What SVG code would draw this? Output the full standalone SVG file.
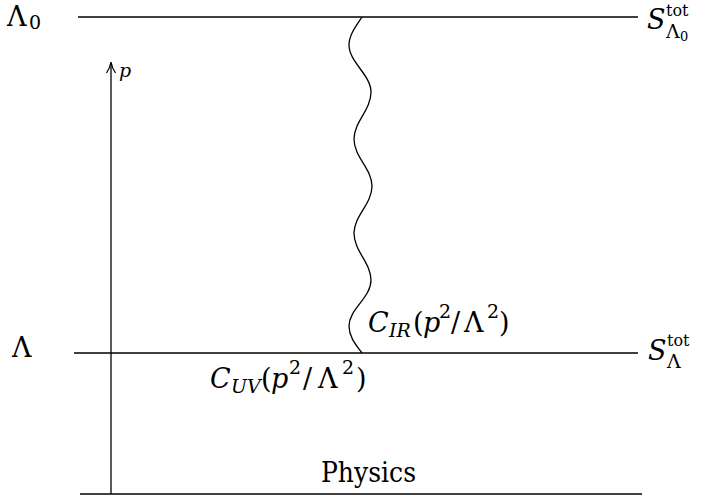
<svg xmlns="http://www.w3.org/2000/svg" width="701" height="500" viewBox="0 0 701 500">
<style>
.ln{stroke:#000;stroke-width:1.3;fill:none}
.t{font-family:"DejaVu Serif","Liberation Serif",serif;fill:#000}
.m{font-size:27px}
.s{font-size:19px}
.sp{font-size:16px}
.ss{font-size:13px}
.i{font-style:italic}
</style>
<rect width="701" height="500" fill="#fff"/>
<g id="levels">
<g id="level-Lambda0">
<line class="ln" x1="78" y1="17" x2="638" y2="17"/>
<text x="7" y="26" class="t m">Λ<tspan class="s" x="29" y="29">0</tspan></text>
<text x="647" y="29" class="t m i">S<tspan class="sp" font-style="normal" x="666" y="16">tot</tspan><tspan class="s" font-style="normal" x="666" y="38">Λ</tspan><tspan class="ss" font-style="normal" x="680" y="41">0</tspan></text>
</g>
<g id="level-Lambda">
<line class="ln" x1="74" y1="353" x2="638" y2="353"/>
<text x="12" y="357" class="t m">Λ</text>
<text x="648" y="360" class="t m i">S<tspan class="sp" font-style="normal" x="667" y="346">tot</tspan><tspan class="s" font-style="normal" x="667" y="368">Λ</tspan></text>
</g>
<g id="level-physics">
<line class="ln" x1="80" y1="494" x2="642" y2="494"/>
<text x="321" y="482" class="t m" textLength="95" lengthAdjust="spacingAndGlyphs">Physics</text>
</g>
</g>
<g id="connectors">
<g id="axis-p">
<line class="ln" x1="111" y1="494" x2="111" y2="63"/>
<path class="ln" d="M106.5,73 Q110,68 111,62 Q112,68 115.5,73"/>
<text x="119" y="77" class="t s i">p</text>
</g>
<g id="wavy-flow">
<path class="ln" d="M362,17 C356,26 349,35 349,45 C349,62 371,75 371,92 C371,110 354,122 354,139 C354,157 372,169 372,186 C372,204 354,216 354,233 C354,251 371,263 371,280 C371,298 349,309 349,326 C349,337 356,345 362,353"/>
</g>
</g>
<g id="labels">
<text id="label-CIR" class="t m" y="332"><tspan class="i" x="368">C</tspan><tspan class="s i" x="389" y="337">IR</tspan><tspan x="413" y="332">(</tspan><tspan class="i" x="423">p</tspan><tspan class="s" x="439" y="318">2</tspan><tspan x="451" y="332">/</tspan><tspan x="464">Λ</tspan><tspan class="s" x="487" y="318">2</tspan><tspan x="499" y="332">)</tspan></text>
<text id="label-CUV" class="t m" y="388"><tspan class="i" x="210">C</tspan><tspan class="s i" x="231" y="393">UV</tspan><tspan x="261" y="388">(</tspan><tspan class="i" x="271">p</tspan><tspan class="s" x="289" y="374">2</tspan><tspan x="303" y="388">/</tspan><tspan x="318">Λ</tspan><tspan class="s" x="342" y="374">2</tspan><tspan x="356" y="388">)</tspan></text>
</g>
</svg>
